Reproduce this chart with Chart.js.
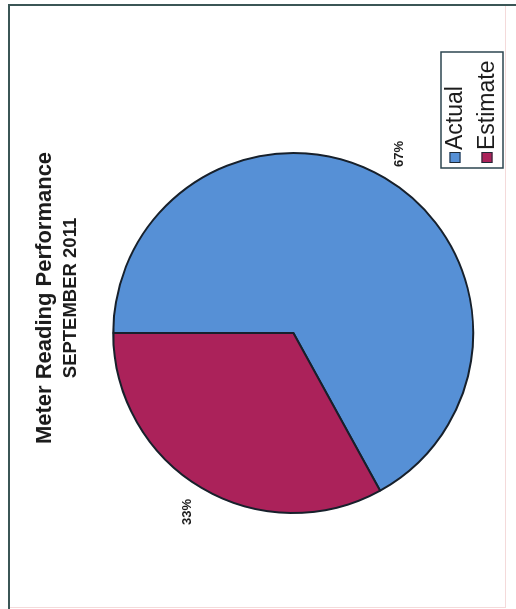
<!DOCTYPE html>
<html>
<head>
<meta charset="utf-8">
<title>Meter Reading Performance</title>
<script src="https://cdn.jsdelivr.net/npm/chart.js@4/dist/chart.umd.min.js"></script>
<style>
  html, body { margin: 0; padding: 0; background: #fff; }
  body { width: 516px; height: 609px; position: relative; overflow: hidden; }
  #frame {
    position: absolute; left: 8px; top: 4px; width: 520px; height: 620px;
    border-left: 2px solid #3b5656; border-top: 2px solid #3b5656;
  }
  #edge {
    position: absolute; left: 10px; top: 6px; width: 495px; height: 601px;
    border-right: 1px solid #f4dada; border-bottom: 1px solid #f4dada;
  }
  /* landscape sheet turned on its side */
  #sheet {
    position: absolute; left: 0; top: 0; width: 609px; height: 516px;
    transform-origin: 0 0; transform: translate(0, 609px) rotate(-90deg);
  }
  #pieChart { display: block; }
</style>
</head>
<body>
<div id="frame"></div>
<div id="edge"></div>
<div id="sheet"><canvas id="pieChart" width="609" height="516"></canvas></div>
<script>
const categories = ['Actual', 'Estimate'];
const percentages = [67, 33];
const sliceColors = ['#5690d6', '#ab225a'];

const FONT = '"Liberation Sans", Arial, sans-serif';
Chart.defaults.font.family = FONT;
Chart.defaults.color = '#1c1c1c';

// boxed legend sitting in its own column on the right of the pie
const legendColumn = {
    id: 'legendColumn',
    beforeInit(chart) {
        Chart.layouts.addBox(chart, {
            position: 'right',
            weight: 0,
            fullSize: false,
            options: {},
            left: 0, top: 0, right: 0, bottom: 0, width: 0, height: 0,
            isHorizontal() { return false; },
            update(maxWidth, maxHeight) {
                this.width = 70;
                this.height = maxHeight;
            },
            draw() {
                const ctx = chart.ctx;
                const x0 = this.left;
                const y0 = this.bottom - 64;
                ctx.save();
                ctx.lineWidth = 1.5;
                ctx.strokeStyle = '#2c4650';
                ctx.strokeRect(x0, y0, 116, 62);
                ctx.font = '23px ' + FONT;
                ctx.textBaseline = 'middle';
                categories.forEach((name, i) => {
                    const cy = y0 + 14 + i * 32;
                    ctx.fillStyle = sliceColors[i];
                    ctx.fillRect(x0 + 5, cy - 5.5, 11, 11);
                    ctx.lineWidth = 1;
                    ctx.strokeStyle = '#1f2a36';
                    ctx.strokeRect(x0 + 5.5, cy - 5, 10, 10);
                    ctx.fillStyle = '#1c1c1c';
                    ctx.fillText(name, x0 + 18, cy + 1);
                });
                ctx.restore();
            }
        });
    }
};

// percentage text just outside each slice
const sliceLabels = {
    id: 'sliceLabels',
    afterDatasetsDraw(chart) {
        const ctx = chart.ctx;
        const arcs = chart.getDatasetMeta(0).data;
        ctx.save();
        ctx.font = 'bold 13px ' + FONT;
        ctx.fillStyle = '#1c1c1c';
        ctx.textAlign = 'center';
        ctx.textBaseline = 'middle';
        arcs.forEach((arc, i) => {
            const mid = (arc.startAngle + arc.endAngle) / 2;
            const r = arc.outerRadius + 28;
            ctx.fillText(percentages[i] + '%', arc.x + Math.cos(mid) * r, arc.y + Math.sin(mid) * r);
        });
        ctx.restore();
    }
};

const ctxPie = document.getElementById('pieChart').getContext('2d');
new Chart(ctxPie, {
    type: 'pie',
    data: {
        labels: categories,
        datasets: [{
            data: percentages,
            backgroundColor: sliceColors,
            borderColor: '#17202b',
            borderWidth: 2,
            radius: 180,
            clip: false,
            hoverOffset: 0
        }]
    },
    options: {
        responsive: false,
        animation: false,
        devicePixelRatio: 1,
        events: [],
        layout: { padding: { left: 111, right: 98, top: 0, bottom: 11 } },
        plugins: {
            legend: { display: false },
            tooltip: { enabled: false },
            title: {
                display: true,
                text: 'Meter Reading Performance',
                font: { size: 22, weight: 'bold' },
                padding: { top: 32, bottom: 0 }
            },
            subtitle: {
                display: true,
                text: 'SEPTEMBER 2011',
                font: { size: 18.5, weight: 'bold' },
                color: '#1c1c1c',
                padding: { top: 1, bottom: 0 }
            }
        }
    },
    plugins: [legendColumn, sliceLabels]
});
</script>
</body>
</html>
